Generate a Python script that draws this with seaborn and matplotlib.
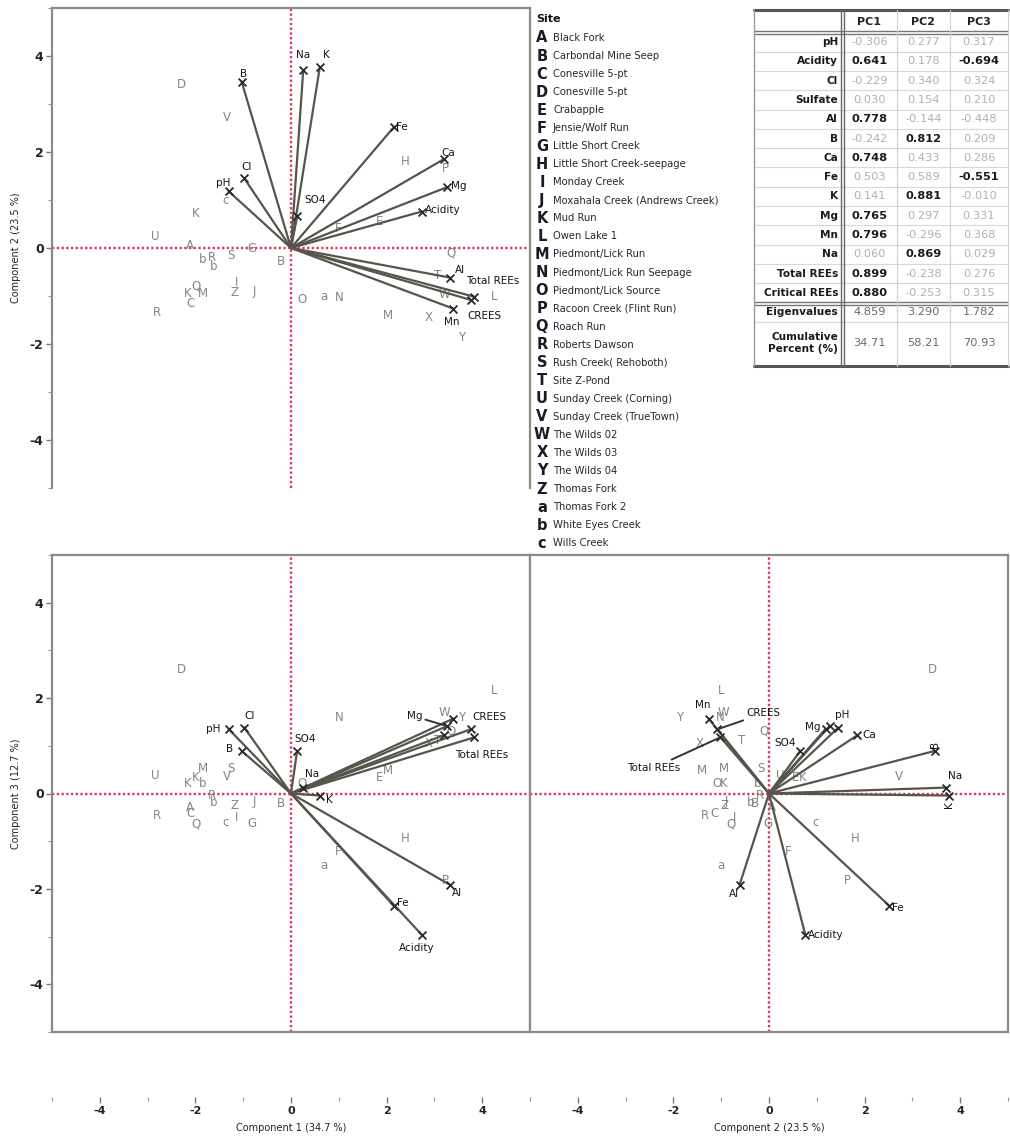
import numpy as np
import pandas as pd
import matplotlib
matplotlib.use("Agg")
import matplotlib.pyplot as plt
import seaborn as sns

# ---- loadings table (also drawn as biplot vectors) ----
variables = ["pH", "Acidity", "Cl", "Sulfate", "Al", "B", "Ca", "Fe", "K",
             "Mg", "Mn", "Na", "Total REEs", "Critical REEs"]
arrow_names = ["pH", "Acidity", "Cl", "SO4", "Al", "B", "Ca", "Fe", "K",
               "Mg", "Mn", "Na", "Total REEs", "CREES"]
load_pc1 = [-0.306, 0.641, -0.229, 0.030, 0.778, -0.242, 0.748, 0.503, 0.141,
            0.765, 0.796, 0.060, 0.899, 0.880]
load_pc2 = [0.277, 0.178, 0.340, 0.154, -0.144, 0.812, 0.433, 0.589, 0.881,
            0.297, -0.296, 0.869, -0.238, -0.253]
load_pc3 = [0.317, -0.694, 0.324, 0.210, -0.448, 0.209, 0.286, -0.551, -0.010,
            0.331, 0.368, 0.029, 0.276, 0.315]
bold_pc1 = [0, 1, 0, 0, 1, 0, 1, 0, 0, 1, 1, 0, 1, 1]
bold_pc2 = [0, 0, 0, 0, 0, 1, 0, 0, 1, 0, 0, 1, 0, 0]
bold_pc3 = [0, 1, 0, 0, 0, 0, 0, 1, 0, 0, 0, 0, 0, 0]
eigenvalues = [4.859, 3.290, 1.782]
cum_percent = [34.71, 58.21, 70.93]

# ---- sites ----
site_codes = list("ABCDEFGHIJKLMNOPQRSTUVWXYZabc")
site_names = ["Black Fork", "Carbondal Mine Seep", "Conesville 5-pt", "Conesville 5-pt",
              "Crabapple", "Jensie/Wolf Run", "Little Short Creek",
              "Little Short Creek-seepage", "Monday Creek",
              "Moxahala Creek (Andrews Creek)", "Mud Run", "Owen Lake 1",
              "Piedmont/Lick Run", "Piedmont/Lick Run Seepage", "Piedmont/Lick Source",
              "Racoon Creek (Flint Run)", "Roach Run", "Roberts Dawson",
              "Rush Creek( Rehoboth)", "Site Z-Pond", "Sunday Creek (Corning)",
              "Sunday Creek (TrueTown)", "The Wilds 02", "The Wilds 03", "The Wilds 04",
              "Thomas Fork", "Thomas Fork 2", "White Eyes Creek", "Wills Creek"]

# ---- sample scores ----
point_codes = ["A", "B", "C", "D", "E", "F", "G", "H", "I", "J", "K", "K", "L", "M", "M",
               "N", "O", "P", "Q", "Q", "R", "R", "S", "T", "U", "V", "W", "X", "Y", "Z",
               "a", "b", "b", "c"]
score_pc1 = [-2.12, -0.21, -2.10, -2.30, 1.86, 0.98, -0.81, 2.38, -1.13, -0.77, -1.99, -2.16,
             4.25, -1.84, 2.03, 1.00, 0.23, 3.23, -1.98, 3.35, -2.80, -1.65, -1.26, 3.06,
             -2.85, -1.34, 3.22, 2.87, 3.56, -1.19, 0.69, -1.84, -1.61, -1.36]
score_pc2 = [0.06, -0.29, -1.15, 3.41, 0.55, 0.40, -0.02, 1.80, -0.72, -0.90, 0.71, -0.94,
             -1.00, -0.94, -1.40, -1.03, -1.08, 1.65, -0.79, -0.10, -1.34, -0.19, -0.16, -0.58,
             0.23, 2.72, -0.96, -1.45, -1.86, -0.93, -1.00, -0.23, -0.38, 0.98]
score_pc3 = [-0.29, -0.21, -0.42, 2.60, 0.34, -1.22, -0.63, -0.94, -0.50, -0.17, 0.34, 0.20,
             2.16, 0.52, 0.48, 1.59, 0.21, -1.82, -0.63, 1.30, -0.46, -0.04, 0.52, 1.11,
             0.38, 0.35, 1.70, 1.05, 1.60, -0.25, -1.51, 0.21, -0.19, -0.61]

axis_titles = ["Component 1 (34.7 %)", "Component 2 (23.5 %)", "Component 3 (12.7 %)"]
arrow_scale = 4.27  # biplot vector scaling

loadings = pd.DataFrame({"name": arrow_names, "PC1": load_pc1, "PC2": load_pc2, "PC3": load_pc3})
scores = pd.DataFrame({"code": point_codes, "PC1": score_pc1, "PC2": score_pc2, "PC3": score_pc3})

# label placement for vector names: (dx pt, dy pt, ha, va, leader, rotation)
lab_top = {"pH": (1, 2, "right", "bottom", 0, 0), "Cl": (1.5, 4.5, "center", "bottom", 0, 0),
           "B": (-1, 2, "left", "bottom", 0, 0), "Na": (0, 7, "center", "bottom", 0, 0),
           "K": (2, 5, "left", "bottom", 0, 0), "Fe": (2, 0, "left", "center", 0, 0),
           "Ca": (-1.5, 1, "left", "bottom", 0, 0), "Mg": (3, 1, "left", "center", 0, 0),
           "Acidity": (2, 1, "left", "center", 0, 0), "SO4": (5, 8, "left", "bottom", 0, 0),
           "Al": (3.5, 2, "left", "bottom", 0, 0), "Total REEs": (-6, 11.5, "left", "center", 0, 0),
           "CREES": (-2, -8, "left", "top", 0, 0), "Mn": (-1.5, -6, "center", "top", 0, 0)}
lab_bl = {"pH": (-6, 0, "right", "center", 0, 0), "Cl": (0, 5, "left", "bottom", 0, 0),
          "B": (-6, 1.5, "right", "center", 0, 0), "SO4": (-2, 5, "left", "bottom", 0, 0),
          "Na": (1, 6.5, "left", "bottom", 0, 0), "K": (4.5, -3, "left", "center", 0, 0),
          "Mg": (-18, 7, "right", "center", 1, 0), "CREES": (1.5, 5, "left", "bottom", 0, 0),
          "Total REEs": (-14, -9, "left", "top", 0, 0), "Al": (1.5, -6, "left", "center", 0, 0),
          "Fe": (2.5, 2, "left", "center", 0, 0), "Acidity": (-3.5, -6, "center", "top", 0, 0)}
lab_br = {"Mn": (-4, 6, "center", "bottom", 0, 0), "CREES": (21, 11.5, "left", "center", 1, 0),
          "Total REEs": (-29, -22, "right", "center", 1, 0), "SO4": (-3.5, 2, "right", "bottom", 0, 0),
          "Mg": (-6.5, -1, "right", "center", 0, 0), "pH": (6.5, 6.5, "left", "bottom", 0, 0),
          "Ca": (3.5, 0, "left", "center", 0, 0), "B": (0, 2, "center", "bottom", 0, 90),
          "Na": (1, 5, "left", "bottom", 0, 0), "K": (0, -4, "center", "top", 0, 90),
          "Al": (-4, -3, "center", "top", 0, 0), "Acidity": (2, 0, "left", "center", 0, 0),
          "Fe": (2, -1.5, "left", "center", 0, 0)}

RED = "#e2385a"
FRAME = "#8e8a86"
ARROW = "#55554d"

sns.set_theme(style="white")
plt.rcParams["font.family"] = ["DejaVu Sans"]

fig = plt.figure(figsize=(10.1, 11.4), dpi=100)


def px_axes(x0, y0, x1, y1):
    return fig.add_axes([x0 / 1010, 1 - y1 / 1140, (x1 - x0) / 1010, (y1 - y0) / 1140])


def biplot(ax, cx, cy, labels):
    ax.set_xlim(-5, 5)
    ax.set_ylim(-5, 5)
    ax.axhline(0, color=RED, ls=(0, (1, 1)), lw=1.7, zorder=1)
    ax.axvline(0, color=RED, ls=(0, (1, 1)), lw=1.7, zorder=1)
    for _, r in scores.iterrows():
        ax.text(r[cx], r[cy], r["code"], ha="center", va="center", fontsize=8.5,
                color="#858585", zorder=2)
    tx = loadings[cx] * arrow_scale
    ty = loadings[cy] * arrow_scale
    for x, y in zip(tx, ty):
        ax.plot([0, x], [0, y], color=ARROW, lw=1.6, zorder=3, solid_capstyle="round")
    sns.scatterplot(x=tx, y=ty, marker="x", color="#2a2a2a", s=32, linewidth=1.3,
                    ax=ax, zorder=4, legend=False)
    for name, x, y in zip(loadings["name"], tx, ty):
        if name not in labels:
            continue
        dx, dy, ha, va, lead, rot = labels[name]
        kw = {}
        if lead:
            kw["arrowprops"] = dict(arrowstyle="-", color="#333333", lw=1.4,
                                    shrinkA=0, shrinkB=0)
        ax.annotate(name, (x, y), xytext=(dx, dy), textcoords="offset points",
                    ha=ha, va=va, fontsize=7.5, color="#151515", zorder=5,
                    rotation=rot, **kw)
    ax.set_xlabel("")
    ax.set_ylabel("")
    ax.set_xticks([-4, -2, 0, 2, 4])
    ax.set_xticks([-5, -3, -1, 1, 3, 5], minor=True)
    ax.set_yticks([-4, -2, 0, 2, 4])
    ax.set_yticks([-5, -3, -1, 1, 3, 5], minor=True)
    for s in ax.spines.values():
        s.set_color(FRAME)
        s.set_linewidth(1.6)


def style_y(ax, title):
    ax.tick_params(axis="y", which="major", left=True, length=4, width=1, color="#777777",
                   labelsize=9, labelcolor="#222222", pad=2)
    ax.tick_params(axis="y", which="minor", left=True, length=3, width=0.8, color="#999999")
    for t in ax.yaxis.get_major_ticks():
        if abs(t.get_loc()) < 1e-9:
            t.tick1line.set_color(RED)
    ax.set_yticklabels(["-4", "-2", "0", "2", "4"], fontweight="bold")
    ax.set_ylabel(title, fontsize=7, color="#222222", labelpad=6)


def style_x(ax, title):
    ax.spines["bottom"].set_position(("outward", 47))
    ax.spines["bottom"].set_visible(False)
    ax.axhline(-5, color=FRAME, lw=1.6, clip_on=False, zorder=6)
    ax.tick_params(axis="x", which="major", bottom=True, length=4, width=1, color="#777777",
                   labelsize=8, labelcolor="#222222", pad=2)
    ax.tick_params(axis="x", which="minor", bottom=True, length=3, width=0.8, color="#999999")
    for t in ax.xaxis.get_major_ticks():
        if abs(t.get_loc()) < 1e-9:
            t.tick1line.set_color(RED)
    ax.set_xticklabels(["-4", "-2", "0", "2", "4"], fontweight="bold")
    ax.set_xlabel(title, fontsize=7, color="#222222", labelpad=5)


# top-left: PC1 vs PC2
ax_top = px_axes(52, 8, 530, 488)
biplot(ax_top, "PC1", "PC2", lab_top)
ax_top.spines["bottom"].set_visible(False)
ax_top.tick_params(axis="x", which="both", bottom=False, labelbottom=False)
style_y(ax_top, axis_titles[1])

# bottom-left: PC1 vs PC3
ax_bl = px_axes(52, 555, 530, 1032)
biplot(ax_bl, "PC1", "PC3", lab_bl)
style_y(ax_bl, axis_titles[2])
style_x(ax_bl, axis_titles[0])

# bottom-right: PC2 vs PC3
ax_br = px_axes(530, 555, 1008, 1032)
biplot(ax_br, "PC2", "PC3", lab_br)
ax_br.tick_params(axis="y", which="both", left=False, labelleft=False)
style_x(ax_br, axis_titles[1])

# overlay in pixel coordinates for legend and table
ov = fig.add_axes([0, 0, 1, 1], zorder=10)
ov.set_xlim(0, 1010)
ov.set_ylim(1140, 0)
ov.axis("off")

# site legend
ov.text(536, 19, "Site", fontsize=8, fontweight="bold", color="#151515", va="center")
for i, (code, name) in enumerate(zip(site_codes, site_names)):
    y = 38 + 18.04 * i
    ov.text(542, y, code, fontsize=10.5, fontweight="bold", color="#1c1828",
            ha="center", va="center")
    ov.text(553, y, name, fontsize=7.2, color="#2a2530", ha="left", va="center")

# loadings table
x_l, x_lab, x_c1, x_c2, x_r = 754, 842, 897, 950, 1008
col_cx = [869.5, 923.5, 979]
row_y = [42 + 19.3 * i for i in range(len(variables))]
for j, head in enumerate(["PC1", "PC2", "PC3"]):
    ov.text(col_cx[j], 22, head, fontsize=8, fontweight="bold", ha="center", va="center",
            color="#222222")
for i, var in enumerate(variables):
    y = row_y[i]
    ov.text(838, y, var, fontsize=7.6, fontweight="bold", ha="right", va="center", color="#1a1a1a")
    for j, (vals, bold) in enumerate([(load_pc1, bold_pc1), (load_pc2, bold_pc2), (load_pc3, bold_pc3)]):
        ov.text(col_cx[j], y, f"{vals[i]:.3f}", fontsize=8.2, ha="center", va="center",
                fontweight="bold" if bold[i] else "normal",
                color="#1a1a1a" if bold[i] else "#b0b0b0")
    if i < len(variables) - 1:
        ov.plot([x_l, x_r], [y + 9.65, y + 9.65], color="#d8d8d8", lw=0.8)
ov.text(838, 312, "Eigenvalues", fontsize=7.6, fontweight="bold", ha="right", va="center", color="#1a1a1a")
ov.text(838, 343, "Cumulative\nPercent (%)", fontsize=7.6, fontweight="bold", ha="right",
        va="center", color="#1a1a1a", linespacing=1.35)
for j in range(3):
    ov.text(col_cx[j], 312, f"{eigenvalues[j]:.3f}", fontsize=8.2, ha="center", va="center", color="#6a6a6a")
    ov.text(col_cx[j], 343, f"{cum_percent[j]:.2f}", fontsize=8.2, ha="center", va="center", color="#6a6a6a")
ov.plot([x_l, x_r], [322, 322], color="#d8d8d8", lw=0.8)
# table rules
ov.plot([x_l, x_r], [10, 10], color="#555555", lw=2.2)
ov.plot([x_l, x_r], [31, 31], color="#777777", lw=1.0)
ov.plot([x_l, x_r], [34, 34], color="#777777", lw=1.0)
ov.plot([x_l, x_r], [302, 302], color="#777777", lw=1.0)
ov.plot([x_l, x_r], [305, 305], color="#777777", lw=1.0)
ov.plot([x_l, x_r], [366, 366], color="#555555", lw=2.2)
ov.plot([x_l, x_l], [10, 366], color="#999999", lw=1.0)
ov.plot([x_lab - 1.5, x_lab - 1.5], [10, 366], color="#666666", lw=1.0)
ov.plot([x_lab + 1.5, x_lab + 1.5], [10, 366], color="#666666", lw=1.0)
ov.plot([x_c1, x_c1], [10, 366], color="#d0d0d0", lw=0.8)
ov.plot([x_c2, x_c2], [10, 366], color="#d0d0d0", lw=0.8)
ov.plot([x_r, x_r], [10, 366], color="#d0d0d0", lw=0.8)

fig.savefig("out.png", dpi=100)
